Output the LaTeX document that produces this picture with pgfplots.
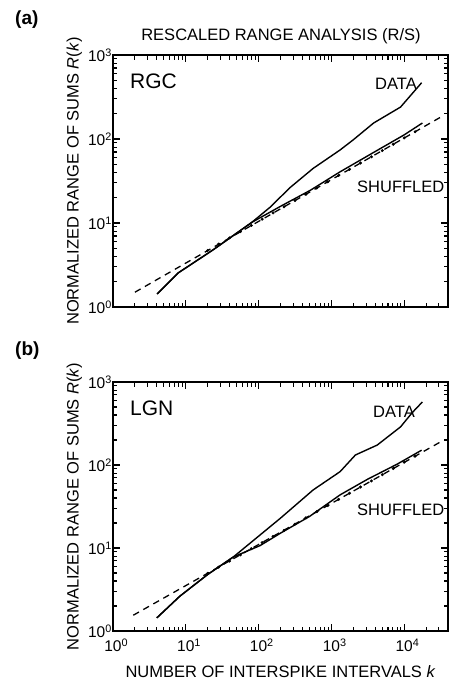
\documentclass[border=0pt]{standalone}
\usepackage{fontspec}
\setmainfont{Liberation Sans}
\usepackage{pgfplots}
\pgfplotsset{compat=1.18}
\newcommand\fs{\fontsize{16.5}{19}\selectfont}

\pgfplotsset{
  every axis/.append style={
    scale only axis, width=335pt,
    xmin=1, xmax=40000, ymin=1, ymax=1000,
    xtick={1,10,100,1000,10000}, ytick={1,10,100,1000},
    minor xtick={2,3,4,5,6,7,8,9,20,30,40,50,60,70,80,90,200,300,400,500,600,700,800,900,
      2000,3000,4000,5000,6000,7000,8000,9000,20000,30000},
    minor ytick={2,3,4,5,6,7,8,9,20,30,40,50,60,70,80,90,200,300,400,500,600,700,800,900},
    yticklabels={10\textsuperscript{0},10\textsuperscript{1},10\textsuperscript{2},10\textsuperscript{3}},
    tick label style={font=\fontsize{15.5}{18}\selectfont},
    yticklabel style={inner sep=1pt},
    axis line style={line width=1.4pt},
    axis on top,
    major tick length=7pt, minor tick length=4.5pt,
    xtick style={draw=black, line width=1.1pt},
    ytick style={draw=black, line width=1.1pt},
    ylabel={NORMALIZED RANGE OF SUMS \textit{R}(\textit{k})},
    ylabel style={font=\fs, at={(axis description cs:-0.115,0.5)}, anchor=center},
  },
}

\begin{document}
\begin{tikzpicture}
\useasboundingbox (0pt,0pt) rectangle (449pt,-683pt);

% panel (a)
\begin{loglogaxis}[at={(113pt,-307pt)}, anchor=south west, height=252pt,
    xticklabels={}]
  \addplot[black, line width=1.3pt, no marks, dash pattern=on 6.5pt off 5pt] coordinates {(2,1.5) (32000,183)};
  \addplot[only marks, mark=*, mark size=1.3pt, black] coordinates {
    (20.0,4.72) (28.2,5.61) (39.8,6.65) (56.2,7.89) (79.4,9.37) (112,11.1)
    (158,13.2) (224,15.6) (316,18.5) (447,22.0) (631,26.1) (891,31.0)
    (1259,36.8) (1778,43.6) (2512,51.8) (3548,61.4) (5012,72.9) (7079,86.5)
    (10000,103) (14125,122)
  };
  % data
  \addplot[black, line width=1.4pt, no marks] coordinates {
    (4.03,1.43) (7.83,2.54) (23.7,4.79) (81,10.2) (145,15.5) (269,26.3)
    (562,44.7) (1318,74.1) (1995,97.7) (3802,155) (8913,240) (17378,468)
  };
  % shuffled
  \addplot[black, line width=1.4pt, no marks] coordinates {
    (4.03,1.43) (7.83,2.54) (23.7,4.79) (81,10.2) (200,15.8) (513,24.5)
    (1318,40.7) (3981,70.8) (10000,112) (17783,155)
  };
\end{loglogaxis}

% panel (b)
\begin{loglogaxis}[at={(113pt,-631pt)}, anchor=south west, height=249pt,
    xticklabels={10\rlap{\textsuperscript{0}},10\rlap{\textsuperscript{1}},10\rlap{\textsuperscript{2}},10\rlap{\textsuperscript{3}},10\rlap{\textsuperscript{4}}},
    xticklabel style={yshift=-4pt},
    xlabel={NUMBER OF INTERSPIKE INTERVALS \textit{k}},
    xlabel style={font=\fs, at={(axis description cs:0.5,-0.165)}, anchor=center}]
  \addplot[black, line width=1.3pt, no marks, dash pattern=on 6.5pt off 5pt] coordinates {(1.9,1.55) (31600,190)};
  \addplot[only marks, mark=*, mark size=1.3pt, black] coordinates {
    (20.0,4.95) (28.2,5.88) (39.8,6.97) (56.2,8.27) (79.4,9.82) (112,11.6)
    (158,13.8) (224,16.3) (316,19.4) (447,23.1) (631,27.4) (891,32.5)
    (1259,38.6) (1778,45.7) (2512,54.3) (3548,64.3) (5012,76.4) (7079,90.7)
    (10000,108) (14125,128)
  };
  % data
  \addplot[black, line width=1.4pt, no marks] coordinates {
    (4.0,1.44) (8.3,2.63) (20,4.8) (45,7.8) (200,22.9) (562,50.1)
    (1318,83.2) (2138,132) (4266,174) (8913,288) (12882,427) (17783,575)
  };
  % shuffled
  \addplot[black, line width=1.4pt, no marks] coordinates {
    (4.0,1.44) (8.3,2.63) (20,4.8) (45,7.8) (105,10.7) (200,15.1)
    (501,24.0) (1318,43.7) (3162,67.6) (7943,102) (17378,151)
  };
\end{loglogaxis}

% text
\node[anchor=base west, inner sep=0, font=\fontsize{19}{19}\selectfont\bfseries] at (15pt,-24pt) {(a)};
\node[anchor=base west, inner sep=0, font=\fontsize{19}{19}\selectfont\bfseries] at (15pt,-355pt) {(b)};
\node[anchor=base, inner sep=0, font=\fs] at (281pt,-40pt) {RESCALED RANGE ANALYSIS (R/S)};
\node[anchor=base west, inner sep=0, font=\fontsize{21}{21}\selectfont] at (130pt,-88.5pt) {RGC};
\node[anchor=base west, inner sep=0, font=\fontsize{21}{21}\selectfont] at (130pt,-415pt) {LGN};
\node[anchor=base west, inner sep=0, font=\fs] at (375pt,-89pt) {DATA};
\node[anchor=base west, inner sep=0, font=\fs] at (357pt,-192pt) {SHUFFLED};
\node[anchor=base west, inner sep=0, font=\fs] at (373pt,-417pt) {DATA};
\node[anchor=base west, inner sep=0, font=\fs] at (357pt,-515pt) {SHUFFLED};
\end{tikzpicture}
\end{document}
